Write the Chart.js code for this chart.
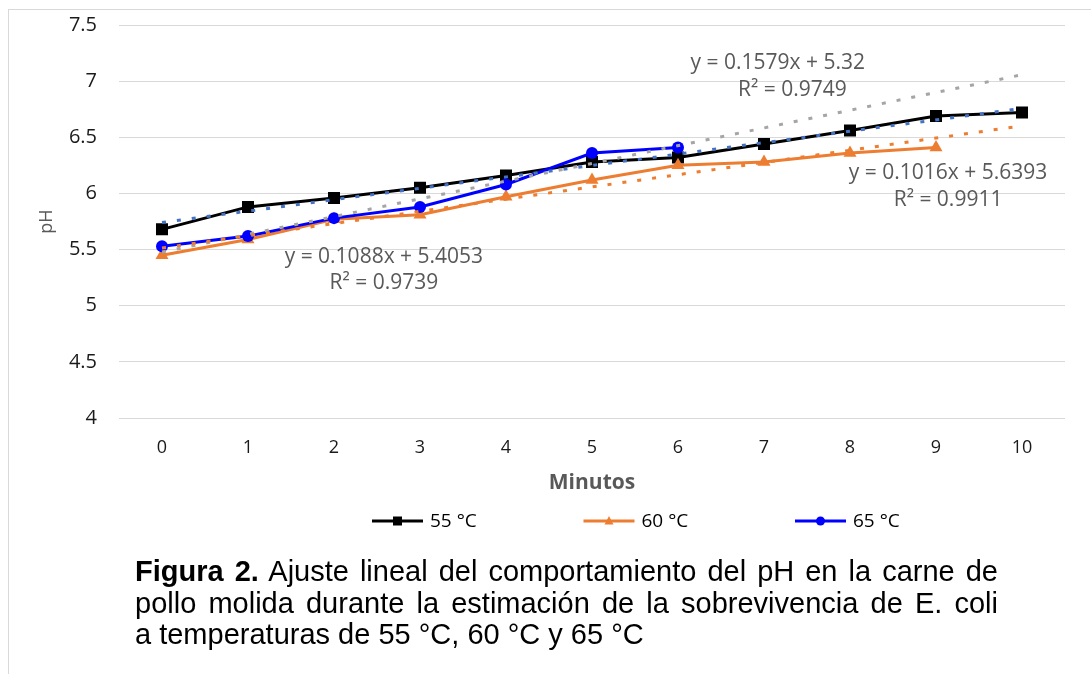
<!DOCTYPE html>
<html lang="es">
<head>
<meta charset="utf-8">
<title>Figura 2 - pH</title>
<script src="https://cdn.jsdelivr.net/npm/chart.js@4.4.1/dist/chart.umd.min.js"></script>
<style>
  html, body { margin: 0; padding: 0; background: #fff; }
  #wrap { position: relative; width: 1091px; height: 674px; overflow: hidden; }
  #frame { position: absolute; left: 8px; top: 9px; width: 1100px; height: 700px;
           border-top: 1px solid #d9d9d9; border-left: 1px solid #d9d9d9; }
  #phChart { position: absolute; left: 0; top: 0; }
  #caption { position: absolute; left: 135px; top: 556px; width: 863px;
             font-family: 'Liberation Sans', Arial, sans-serif; font-size: 29px;
             line-height: 31.5px; color: #000; }
  #caption .j { text-align: justify; text-align-last: justify; }
</style>
</head>
<body>
<div id="wrap">
  <div id="frame"></div>
  <canvas id="phChart" width="1091" height="674"></canvas>
  <div id="caption">
    <div class="j"><b>Figura 2.</b> Ajuste lineal del comportamiento del pH en la carne de</div>
    <div class="j">pollo molida durante la estimación de la sobrevivencia de E. coli</div>
    <div>a temperaturas de 55 °C, 60 °C y 65 °C</div>
  </div>
</div>
<script>
// --- data ---
const minutes = [0, 1, 2, 3, 4, 5, 6, 7, 8, 9, 10];
const ph55 = [5.68, 5.88, 5.96, 6.05, 6.16, 6.28, 6.32, 6.44, 6.56, 6.69, 6.72];
const ph60 = [5.45, 5.59, 5.77, 5.81, 5.97, 6.12, 6.25, 6.28, 6.36, 6.41];
const ph65 = [5.53, 5.62, 5.78, 5.88, 6.08, 6.36, 6.41];
const seriesNames = ['55 °C', '60 °C', '65 °C'];
const yTicks = [4, 4.5, 5, 5.5, 6, 6.5, 7, 7.5];

// Excel linear trendlines (x counted from 1), as printed on the chart
const trendSlopes = [0.1016, 0.1088, 0.1579];
const trendIntercepts = [5.6393, 5.4053, 5.32];
const trendR2 = [0.9911, 0.9739, 0.9749];

const labels = minutes.map(String);
const lineColors = ['#000000', '#ED7D31', '#0000FF'];
const trendColors = ['#4472C4', '#ED7D31', '#A5A5A5'];
const markers = ['rect', 'triangle', 'circle'];
const markerRadius = [8.5, 7.5, 6];

function trendLine(i) {
    const m = trendSlopes[i], b = trendIntercepts[i];
    const first = 1, last = minutes.length;
    return [
        { x: labels[0], y: b + m * first },
        { x: labels[labels.length - 1], y: b + m * last }
    ];
}

const seriesData = [ph55, ph60, ph65];
const datasets = [];
seriesData.forEach((values, i) => {
    datasets.push({
        label: seriesNames[i],
        data: values,
        borderColor: lineColors[i],
        backgroundColor: lineColors[i],
        pointBackgroundColor: lineColors[i],
        pointBorderColor: lineColors[i],
        pointBorderWidth: 0,
        pointStyle: markers[i],
        pointRadius: markerRadius[i],
        borderWidth: 3,
        tension: 0,
        order: 3 - i
    });
});
seriesData.forEach((values, i) => {
    datasets.push({
        label: seriesNames[i] + ' lineal',
        isTrend: true,
        data: trendLine(i),
        borderColor: trendColors[i],
        borderWidth: 3,
        borderDash: [4, 11],
        borderCapStyle: 'butt',
        pointRadius: 0,
        spanGaps: true,
        order: 0
    });
});

// draw a marker like the Excel legend sample
function drawMarker(ctx, style, x, y, r) {
    ctx.beginPath();
    if (style === 'rect') {
        ctx.rect(x - r, y - r, 2 * r, 2 * r);
    } else if (style === 'triangle') {
        ctx.moveTo(x, y - r * 1.1);
        ctx.lineTo(x + r, y + r * 0.75);
        ctx.lineTo(x - r, y + r * 0.75);
        ctx.closePath();
    } else {
        ctx.arc(x, y, r, 0, Math.PI * 2);
    }
    ctx.fill();
}

const excelLegend = {
    id: 'excelLegend',
    afterDraw(chart, args, opts) {
        const ctx = chart.ctx;
        const items = chart.data.datasets.filter(d => !d.isTrend);
        ctx.save();
        ctx.font = opts.font;
        ctx.textBaseline = 'middle';
        items.forEach((ds, i) => {
            const x0 = opts.startX + i * opts.spacing;
            const y = opts.y;
            ctx.strokeStyle = ds.borderColor;
            ctx.lineWidth = 3;
            ctx.beginPath();
            ctx.moveTo(x0, y);
            ctx.lineTo(x0 + opts.lineLength, y);
            ctx.stroke();
            ctx.fillStyle = ds.borderColor;
            drawMarker(ctx, ds.pointStyle, x0 + opts.lineLength / 2, y, opts.markerSize);
            ctx.fillStyle = '#000';
            ctx.fillText(ds.label, x0 + opts.lineLength + 7, y + 1);
        });
        ctx.restore();
    }
};

const equationLabels = {
    id: 'equationLabels',
    afterDatasetsDraw(chart, args, opts) {
        const ctx = chart.ctx;
        const xs = chart.scales.x, ys = chart.scales.y;
        ctx.save();
        ctx.font = opts.font;
        ctx.fillStyle = opts.color;
        ctx.textAlign = 'center';
        ctx.textBaseline = 'middle';
        opts.items.forEach(item => {
            const i = item.series;
            const text = item.kind === 'eq'
                ? 'y = ' + trendSlopes[i] + 'x + ' + trendIntercepts[i]
                : 'R² = ' + trendR2[i];
            const px = xs.getPixelForValue(0) + item.at[0] * (xs.getPixelForValue(1) - xs.getPixelForValue(0));
            ctx.fillText(text, px, ys.getPixelForValue(item.at[1]));
        });
        ctx.restore();
    }
};

new Chart(document.getElementById('phChart').getContext('2d'), {
    type: 'line',
    data: { labels: labels, datasets: datasets },
    options: {
        responsive: false,
        animation: false,
        devicePixelRatio: 1,
        layout: { padding: { left: 30, right: 26, top: 25, bottom: 174 } },
        plugins: {
            legend: { display: false },
            tooltip: { enabled: false },
            excelLegend: {
                startX: 372, y: 521, spacing: 211.5, lineLength: 51, markerSize: 4.5,
                font: "19px 'Open Sans', sans-serif"
            },
            equationLabels: {
                font: "21px 'Open Sans', sans-serif",
                color: '#595959',
                items: [
                    { series: 2, kind: 'eq', at: [7.16, 7.16] },
                    { series: 2, kind: 'r2', at: [7.33, 6.92] },
                    { series: 1, kind: 'eq', at: [2.58, 5.43] },
                    { series: 1, kind: 'r2', at: [2.58, 5.20] },
                    { series: 0, kind: 'eq', at: [9.14, 6.18] },
                    { series: 0, kind: 'r2', at: [9.14, 5.94] }
                ]
            }
        },
        scales: {
            x: {
                offset: true,
                grid: { display: false, drawTicks: false },
                border: { display: false },
                ticks: { color: '#1a1a1a', padding: 19, font: { family: 'Open Sans', size: 18 } },
                title: {
                    display: true, text: 'Minutos', color: '#595959',
                    padding: { top: 4, bottom: 4 },
                    font: { family: 'Open Sans', size: 21, weight: 'bold' }
                },
                afterFit: (scale) => { scale.height = 82; }
            },
            y: {
                min: yTicks[0],
                max: yTicks[yTicks.length - 1],
                grid: { color: '#d9d9d9', lineWidth: 1, drawTicks: false },
                border: { display: false },
                ticks: {
                    stepSize: yTicks[1] - yTicks[0], color: '#1a1a1a', padding: 22,
                    font: { family: 'Open Sans', size: 20 },
                    callback: (value) => String(value)
                },
                title: {
                    display: true, text: 'pH', color: '#595959',
                    padding: { top: 6, bottom: 4 },
                    font: { family: 'Open Sans', size: 18 }
                },
                afterFit: (scale) => {
                    scale.width = 89;
                    // tick padding is horizontal here; keep it out of the vertical overhang
                    scale.paddingTop = 0;
                    scale.paddingBottom = 0;
                }
            }
        }
    },
    plugins: [equationLabels, excelLegend]
});
</script>
</body>
</html>
